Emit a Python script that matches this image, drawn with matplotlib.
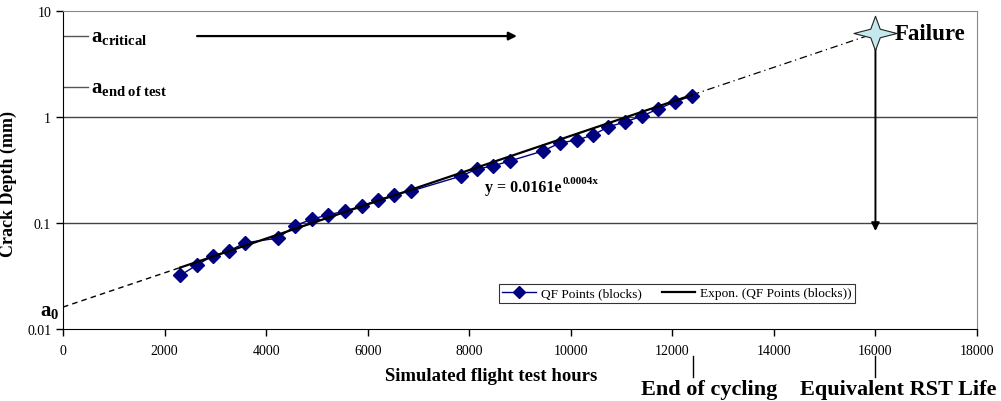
import numpy as np
import matplotlib
matplotlib.use("Agg")
import matplotlib.pyplot as plt
from matplotlib.path import Path

plt.rcParams['font.family'] = ['Liberation Serif', 'DejaVu Serif']
plt.rcParams['mathtext.fontset'] = 'custom'
plt.rcParams['mathtext.rm'] = 'Liberation Serif'
plt.rcParams['mathtext.bf'] = 'Liberation Serif:bold'
plt.rcParams['mathtext.it'] = 'Liberation Serif:italic'

# QF points (simulated flight hours vs crack depth in mm)
hours = [2304, 2633, 2948, 3269, 3584, 4234, 4569, 4904, 5219, 5553, 5888, 6203,
         6518, 6853, 7837, 8152, 8467, 8802, 9452, 9787, 10122, 10437, 10733,
         11067, 11402, 11717, 12052, 12387]
depth = [0.032, 0.040, 0.049, 0.0545, 0.065, 0.072, 0.094, 0.109, 0.119, 0.130,
         0.145, 0.165, 0.184, 0.200, 0.277, 0.323, 0.345, 0.385, 0.478, 0.569,
         0.607, 0.676, 0.805, 0.897, 1.02, 1.19, 1.39, 1.58]

# exponential trend y = a*exp(b*x)
fit_a = 0.0161
fit_b = 0.000372

a_critical = 5.8
a_end_test = 1.9
end_of_cycling = 12400
rst_life = 16000
arrow_x = [2640, 8940]
failure_arrow_end = 0.084

xticks = list(range(0, 18001, 2000))
yticks = [0.01, 0.1, 1, 10]
ytick_labels = ['0.01', '0.1', '1', '10']

hours = np.array(hours)
depth = np.array(depth)


def trend(x):
    return fit_a * np.exp(fit_b * np.asarray(x, dtype=float))


fig = plt.figure(figsize=(10.01, 4.02), dpi=100)
ax = fig.add_axes([63 / 1001, 1 - 330 / 402, 914 / 1001, 318 / 402])
ax.set_yscale('log')
ax.set_xlim(0, 18000)
ax.set_ylim(0.01, 10)

# horizontal grid lines
for g in [0.1, 1]:
    ax.axhline(g, color='#444444', lw=1, zorder=1)

# data series
ax.plot(hours, depth, color='#000080', lw=1, marker='D', markersize=7.5,
        markerfacecolor='#000080', markeredgecolor='#000080',
        label='QF Points (blocks)', zorder=3)

# trend line over the data range, plus extrapolations
xt = np.linspace(hours[0], hours[-1], 200)
ax.plot(xt, trend(xt), color='black', lw=1.6, label='Expon. (QF Points (blocks))', zorder=4)
xb = np.linspace(0, hours[0], 50)
ax.plot(xb, trend(xb), color='black', lw=1, ls=(0, (4, 3)), zorder=2)
xf = np.linspace(hours[-1], rst_life, 100)
ax.plot(xf, trend(xf), color='black', lw=0.9, ls=(0, (6, 3, 1, 3)), zorder=2)

# failure arrow and star
fail_y = float(trend(rst_life))
ax.annotate('', xy=(rst_life, failure_arrow_end), xytext=(rst_life, fail_y),
            arrowprops=dict(arrowstyle='-|>', color='black', lw=1.4,
                            mutation_scale=12, shrinkA=0, shrinkB=0), zorder=5)
star = Path([(0, 0.8), (0.22, 0.2), (1, 0), (0.22, -0.2), (0, -0.8),
             (-0.22, -0.2), (-1, 0), (-0.22, 0.2), (0, 0.8)],
            [Path.MOVETO] + [Path.LINETO] * 7 + [Path.CLOSEPOLY])
ax.plot([rst_life], [fail_y], marker=star, markersize=31, markerfacecolor='#c4e8ec',
        markeredgecolor='#222222', markeredgewidth=0.8, ls='none', zorder=6)
ax.text(rst_life + 380, fail_y, 'Failure', fontsize=16.5, fontweight='bold',
        va='center', ha='left')

# crack size levels on the left
for lvl, txt in [(a_critical, r'$\mathbf{a_{critical}}$'),
                 (a_end_test, r'$\mathbf{a_{end\ of\ test}}$')]:
    ax.plot([0, 500], [lvl, lvl], color='#555555', lw=1, zorder=2)
    ax.text(560, lvl, txt, fontsize=15, va='center', ha='left')
ax.annotate('', xy=(arrow_x[1], a_critical), xytext=(arrow_x[0], a_critical),
            arrowprops=dict(arrowstyle='-|>', color='black', lw=1.6,
                            mutation_scale=12, shrinkA=0, shrinkB=0))
ax.text(-80, float(trend(0)) * 0.93, r'$\mathbf{a_0}$', fontsize=15,
        va='center', ha='right', clip_on=False)

# fit equation
eq = ax.text(8310, 0.2, 'y = %.4fe' % fit_a, fontsize=11.5, fontweight='bold',
             va='baseline', ha='left')
ax.annotate('%.1gx' % fit_b, xy=(1, 0.62), xycoords=eq, xytext=(0.5, 0),
            textcoords='offset points', fontsize=8, fontweight='bold',
            va='bottom', ha='left')

# markers below the x axis
xtr = ax.get_xaxis_transform()
for xv, txt, dx in [(end_of_cycling, 'End of cycling', 320),
                    (rst_life, 'Equivalent RST Life', 440)]:
    ax.plot([xv, xv], [-0.085, -0.152], color='black', lw=1, transform=xtr, clip_on=False)
    ax.text(xv + dx, -0.19, txt, transform=xtr, fontsize=16, fontweight='bold',
            ha='center', va='center')

ax.set_xticks(xticks)
ax.set_xticklabels([str(v) for v in xticks])
ax.set_yticks(yticks)
ax.set_yticklabels(ytick_labels)
ax.yaxis.set_minor_locator(matplotlib.ticker.NullLocator())
ax.tick_params(axis='both', direction='out', length=5, width=1, labelsize=10)
ax.tick_params(axis='x', pad=6)

ax.set_xlabel('Simulated flight test hours', fontsize=13.5, fontweight='bold')
ax.set_ylabel('Crack Depth (mm)', fontsize=13, fontweight='bold')
ax.xaxis.set_label_coords(0.469, -0.12)
ax.yaxis.set_label_coords(-0.05, 0.459)

for s in ['top', 'right']:
    ax.spines[s].set_color('#888888')
for s in ['left', 'bottom']:
    ax.spines[s].set_color('black')

leg = ax.legend(loc='center', bbox_to_anchor=(0.672, 0.113), ncol=2, fontsize=9.6,
                frameon=True, fancybox=False, handlelength=2.5, columnspacing=1.5,
                borderpad=0.25, handletextpad=0.4)
leg.get_frame().set_edgecolor('black')
leg.get_frame().set_linewidth(0.8)
for h in leg.legend_handles[:1]:
    h.set_markersize(6)

fig.savefig('out.png', dpi=100)
